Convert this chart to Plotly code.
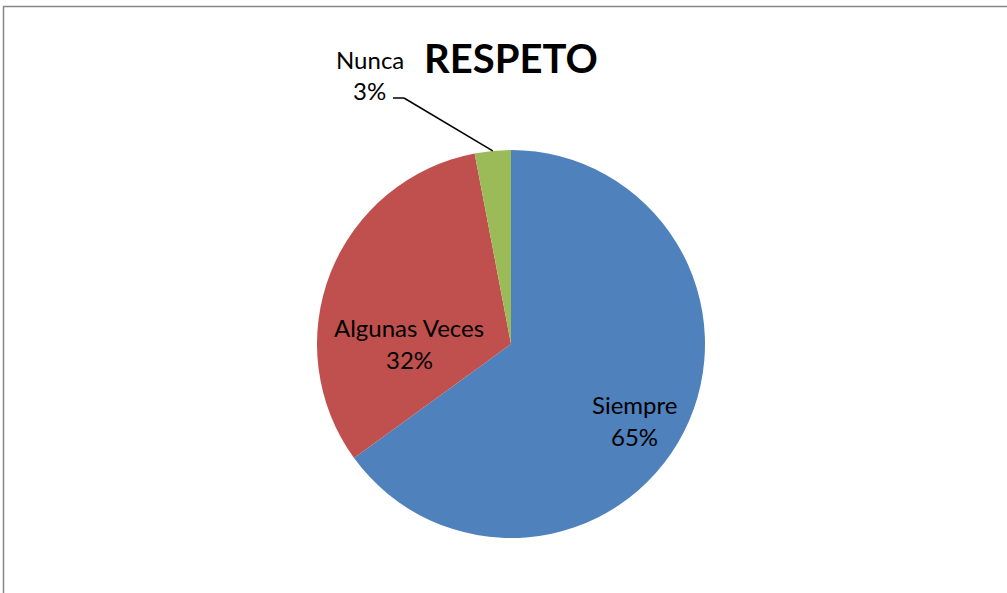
import plotly.graph_objects as go
import math

# Data
categories = ["Siempre", "Algunas Veces", "Nunca"]
values = [65, 32, 3]
colors = ["#4F81BD", "#C0504D", "#9BBB59"]
title_text = "RESPETO"

W, H = 1007, 593
cx, cy, R = 511, 344, 194  # pie centre / radius in pixels (layout)

def px(x):
    return x / W

def py(y):
    return 1 - y / H

fig = go.Figure(go.Pie(
    labels=categories,
    values=values,
    marker=dict(colors=colors, line=dict(width=0)),
    sort=False,
    direction="clockwise",
    rotation=0,
    textinfo="none",
    hoverinfo="label+percent",
    showlegend=False,
    domain=dict(x=[px(cx - R), px(cx + R)], y=[py(cy + R), py(cy - R)]),
))

total = sum(values)
pcts = [f"{round(v / total * 100)}%" for v in values]

font = dict(family="Lato, Noto Sans, sans-serif", size=24, color="#000000")
label_pos = {
    0: [(634, 404), (634, 437)],
    1: [(409, 327), (409, 359)],
    2: [(370, 59), (369, 90)],
}
annotations = []
for i, (name, pct) in enumerate(zip(categories, pcts)):
    for text, (x, y) in zip([name, pct], label_pos[i]):
        annotations.append(dict(
            x=px(x), y=py(y), xref="paper", yref="paper",
            text=text, showarrow=False, font=font,
            xanchor="center", yanchor="middle",
        ))

annotations.append(dict(
    x=px(511), y=py(58), xref="paper", yref="paper",
    text=f"<b>{title_text}</b>", showarrow=False,
    font=dict(family="Lato, Noto Sans, sans-serif", size=40, color="#000000"),
    xanchor="center", yanchor="middle",
))

# leader line for the small slice: from label to mid-angle of the slice on the rim
start = sum(values[:2]) / total * 360
mid = math.radians(start + values[2] / total * 360 / 2)
ex = cx + R * math.sin(mid)
ey = cy - R * math.cos(mid)
shapes = [
    dict(type="line", xref="paper", yref="paper",
         x0=px(393), y0=py(98), x1=px(404), y1=py(98),
         line=dict(color="#000000", width=1.5)),
    dict(type="line", xref="paper", yref="paper",
         x0=px(404), y0=py(98), x1=px(ex), y1=py(ey),
         line=dict(color="#000000", width=1.5)),
    dict(type="rect", xref="paper", yref="paper",
         x0=px(3.5), y0=-0.02, x1=1.02, y1=py(6.5),
         line=dict(color="#868686", width=1.5), fillcolor="rgba(0,0,0,0)"),
]

fig.update_layout(
    width=W, height=H,
    margin=dict(l=0, r=0, t=0, b=0),
    paper_bgcolor="#FFFFFF",
    plot_bgcolor="#FFFFFF",
    annotations=annotations,
    shapes=shapes,
)

fig.write_html(
    "out.html",
    config={"displayModeBar": False},
    post_script="document.body.style.margin='0';document.body.style.overflow='hidden';",
)
